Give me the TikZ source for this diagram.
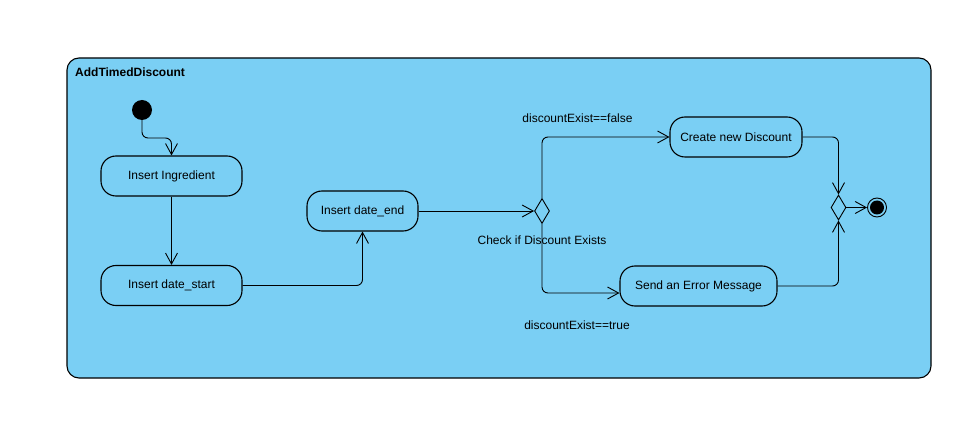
\documentclass[tikz,border=0pt]{standalone}
\usepackage{fontspec}
\setmainfont{Liberation Sans}
\usetikzlibrary{arrows.meta,shapes.geometric}
\definecolor{actbg}{RGB}{122,207,244}
\begin{document}
\begin{tikzpicture}[x=1pt,y=-1pt,
  font=\fontsize{12}{14}\selectfont,
  action/.style={draw=black,line width=1.1pt,rounded corners=15pt,minimum height=40pt,inner sep=0pt,text=black},
  flow/.style={draw=black,line width=0.9pt,rounded corners=6pt,-{Straight Barb[length=11pt,width=12pt,line width=0.9pt]}},
  branch/.style={diamond,draw=black,line width=0.9pt,inner sep=0pt,minimum width=15pt,minimum height=25pt,fill=actbg}]
  % page and activity frame
  \fill[white] (0,0) rectangle (971,430);
  \useasboundingbox (0,0) rectangle (971,430);
  \draw[fill=actbg,line width=1.1pt,rounded corners=12pt] (67,58) rectangle (931,378);
  \node[anchor=west,inner sep=0pt,font=\fontsize{12}{14}\selectfont\bfseries] (title) at (75,72) {AddTimedDiscount};

  % nodes
  \node[circle,fill=black,minimum size=20pt,inner sep=0pt] (init) at (142,110) {};
  \node[action,minimum width=141pt] (ing) at (171.5,176) {Insert Ingredient};
  \node[action,minimum width=141pt] (ds) at (171.5,285.5) {Insert date\_start};
  \node[action,minimum width=111pt] (de) at (362.5,211) {Insert date\_end};
  \node[branch] (chk) at (542,211) {};
  \node[action,minimum width=132pt] (cnd) at (736,137) {Create new Discount};
  \node[action,minimum width=157pt] (err) at (698.5,286) {Send an Error Message};
  \node[branch] (merge) at (838.5,207.5) {};
  \node[circle,draw=black,line width=0.9pt,minimum size=19pt,inner sep=0pt] (final) at (877,207.5) {};
  \fill[black] (final.center) circle (7pt);

  % labels
  \node (lblchk) at (542,240.5) {Check if Discount Exists};
  \node (lblf) at (577.5,118.5) {discountExist==false};
  \node (lblt) at (577,325) {discountExist==true};

  % connectors
  \draw[flow] (init.south) -- (init.south |- 0,138) -- (ing.north |- 0,138) -- (ing.north);
  \draw[flow] (ing.south) -- (ds.north);
  \draw[flow] (ds.east) -- (de.south |- ds.east) -- (de.south);
  \draw[flow] (de.east) -- (chk.west);
  \draw[flow] (chk.north) -- (chk.north |- cnd.west) -- (cnd.west);
  \draw[flow] (chk.south) -- (chk.south |- 0,293) -- (err.west |- 0,293);
  \draw[flow] (cnd.east) -- (merge.north |- cnd.east) -- (merge.north);
  \draw[flow] (err.east) -- (merge.south |- err.east) -- (merge.south);
  \draw[flow] (merge.east) -- (final.west);
\end{tikzpicture}
\end{document}
